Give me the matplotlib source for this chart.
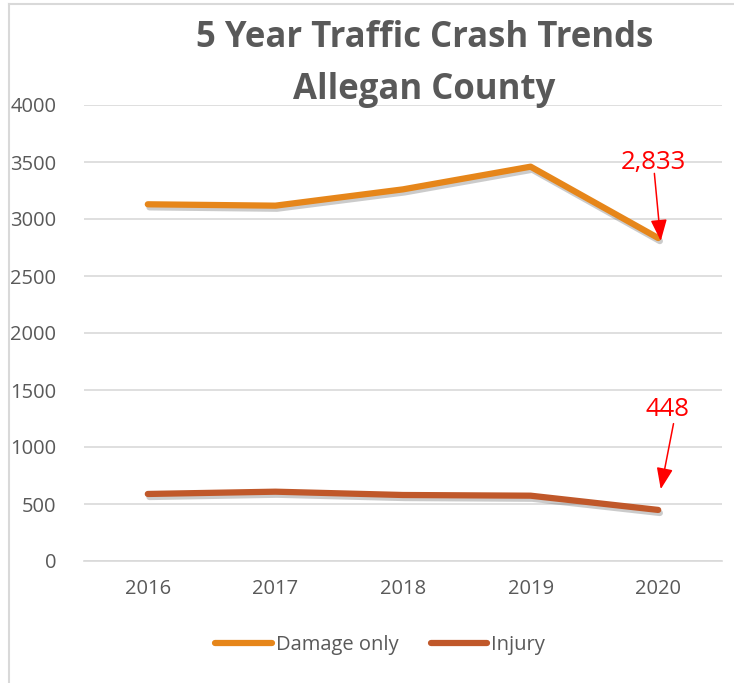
import matplotlib
matplotlib.use("Agg")
import matplotlib.pyplot as plt
import matplotlib.patheffects as pe
from matplotlib.lines import Line2D

years = ["2016", "2017", "2018", "2019", "2020"]
damage_only = [3129, 3117, 3260, 3459, 2833]
injury = [588, 608, 579, 573, 448]
yticks = [0, 500, 1000, 1500, 2000, 2500, 3000, 3500, 4000]

plt.rcParams['font.family'] = ['Open Sans', 'DejaVu Sans']
gray = "#595959"
c_dmg = "#E6861A"
c_inj = "#C0582A"

fig = plt.figure(figsize=(7.34, 6.83), dpi=100)
fig.patch.set_facecolor("white")
ax = fig.add_axes([84/734, 1-561/683, 638/734, 456/683])

x = list(range(len(years)))
shadow = [pe.SimpleLineShadow(offset=(1.2, -2.2), shadow_color="#555555", alpha=0.3), pe.Normal()]
ax.plot(x, damage_only, color=c_dmg, lw=4.5, solid_capstyle="round", solid_joinstyle="round",
        path_effects=shadow, label="Damage only", zorder=3)
ax.plot(x, injury, color=c_inj, lw=4.5, solid_capstyle="round", solid_joinstyle="round",
        path_effects=shadow, label="Injury", zorder=3)

ax.set_xlim(-0.5, 4.5)
ax.set_ylim(0, 4000)
ax.set_yticks(yticks)
ax.set_yticklabels([str(v) for v in yticks])
ax.set_xticks(x)
ax.set_xticklabels(years)
ax.tick_params(axis="both", length=0, labelsize=14.5, colors=gray)
ax.tick_params(axis="y", pad=20)
ax.tick_params(axis="x", pad=13)
ax.grid(axis="y", color="#D9D9D9", lw=1.2)
ax.set_axisbelow(True)
for s in ["left", "right", "top"]:
    ax.spines[s].set_visible(False)
ax.spines["bottom"].set_color("#D9D9D9")
ax.spines["bottom"].set_linewidth(1.2)

# annotations
arrow = dict(arrowstyle="-|>,head_length=0.65,head_width=0.25", color="red", lw=1.1,
             shrinkA=0, shrinkB=0, mutation_scale=20)
ax.text(3.96, 3500, "2,833", color="red", fontsize=18.5, ha="center", va="center")
ax.annotate("", xy=(4.02, damage_only[4] - 25), xytext=(3.97, 3400), arrowprops=arrow)
ax.text(4.07, 1325, "448", color="red", fontsize=18.5, ha="center", va="center")
ax.annotate("", xy=(4.02, 630), xytext=(4.12, 1205), arrowprops=arrow)

# title
fig.text(0.578, 1-38/683, "5 Year Traffic Crash Trends", ha="center", va="center",
         fontsize=25, fontweight="bold", color=gray)
fig.text(0.578, 1-90/683, "Allegan County", ha="center", va="center",
         fontsize=25, fontweight="bold", color=gray)

# legend
handles = [Line2D([], [], color=c_dmg, lw=4.5, solid_capstyle="round"),
           Line2D([], [], color=c_inj, lw=4.5, solid_capstyle="round")]
fig.legend(handles, ["Damage only", "Injury"], loc="center", bbox_to_anchor=(0.518, 1-645/683),
           ncol=2, frameon=False, fontsize=14.5, labelcolor=gray, handlelength=2.8,
           handletextpad=0.2, columnspacing=1.6)

# chart border (left and top)
fig.add_artist(Line2D([9/734, 9/734], [0, 1-4/683], color="#D9D9D9", lw=1.5, transform=fig.transFigure))
fig.add_artist(Line2D([9/734, 1], [1-4/683, 1-4/683], color="#D9D9D9", lw=1.5, transform=fig.transFigure))

fig.savefig("out.png", dpi=100, facecolor="white")
